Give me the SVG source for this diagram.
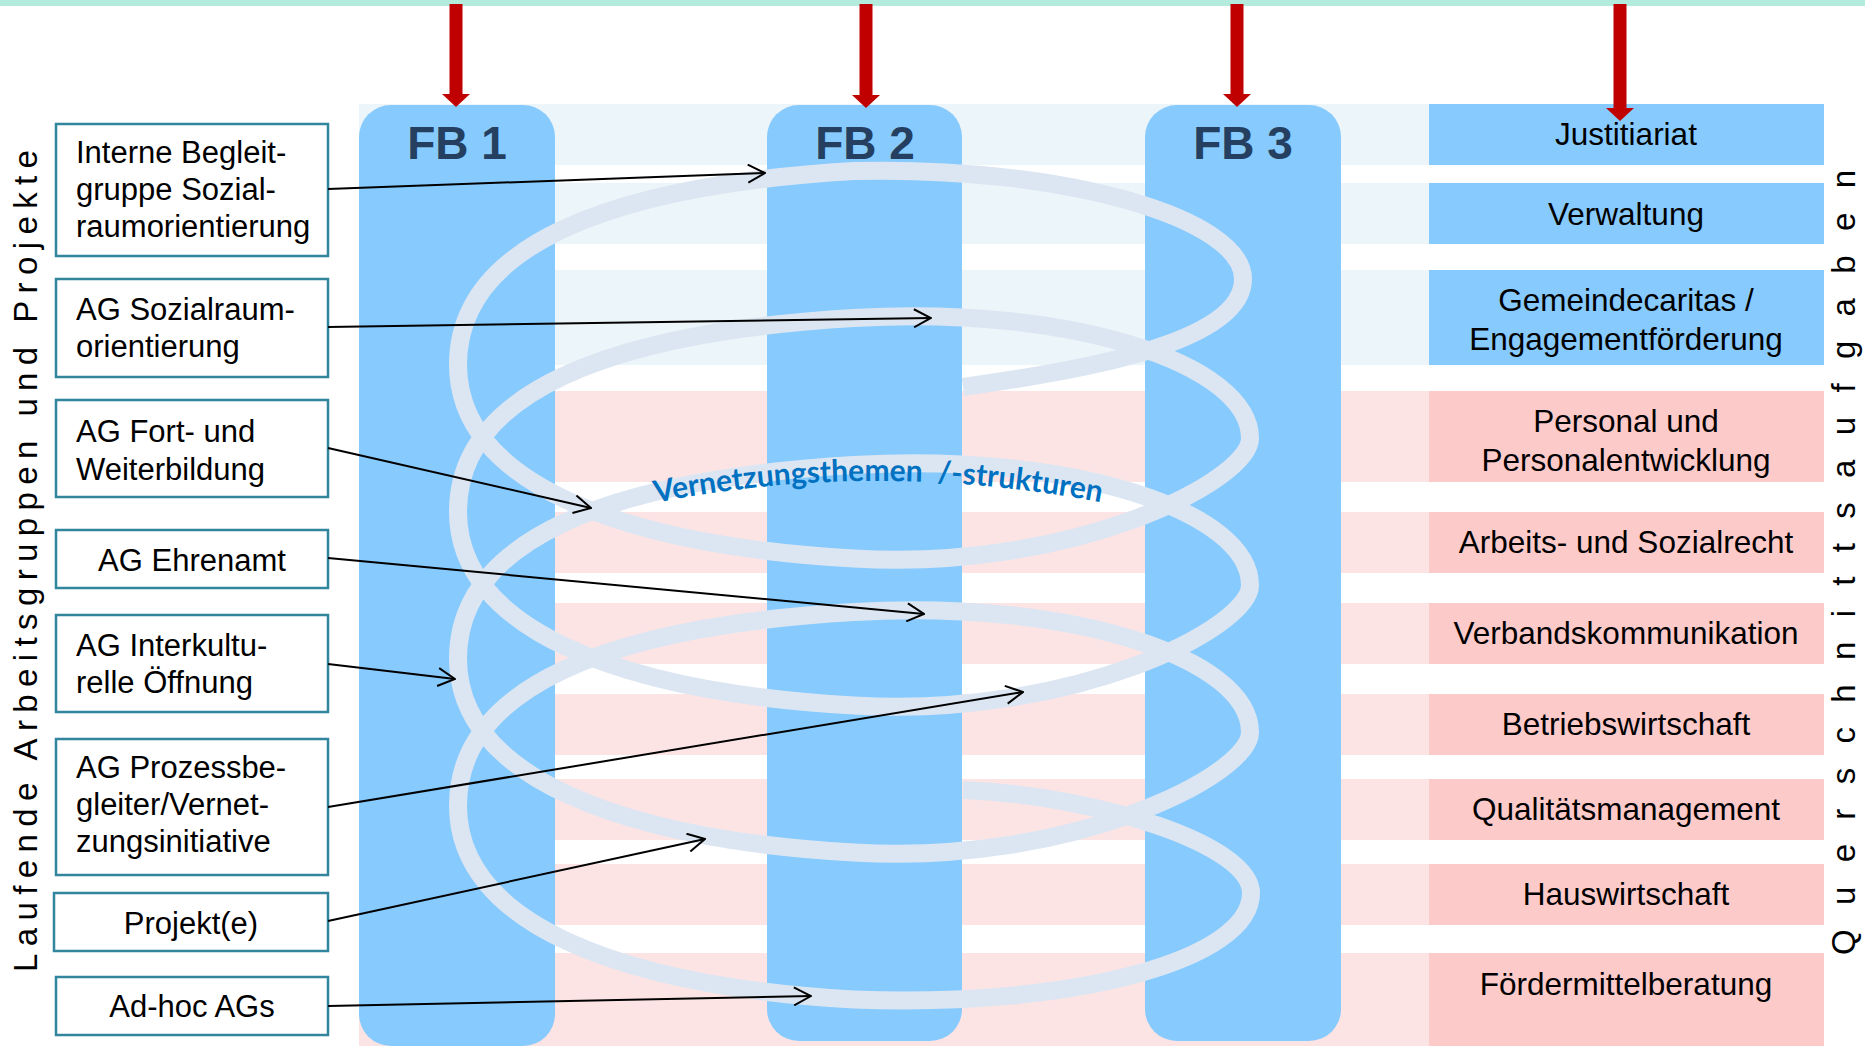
<svg xmlns="http://www.w3.org/2000/svg" width="1865" height="1046" viewBox="0 0 1865 1046">
<defs>
<style>
.bandB{fill:#ecf5f9}
.bandP{fill:#fde4e4}
.boxB{fill:#87cafd}
.boxP{fill:#fdcaca}
.col{fill:#87cafd}
.fb{font-family:"Liberation Sans",Arial,sans-serif;font-weight:bold;font-size:46px;fill:#243f60;text-anchor:middle}
.rt{font-family:"Liberation Sans",Arial,sans-serif;font-size:31.5px;fill:#000;text-anchor:middle}
.lb{fill:#fff;stroke:#31859c;stroke-width:2.5}
.lt{font-family:"Liberation Sans",Arial,sans-serif;font-size:31px;fill:#000}
.ltc{font-family:"Liberation Sans",Arial,sans-serif;font-size:31px;fill:#000;text-anchor:middle}
.red{fill:#c00000}
.con{stroke:#000;stroke-width:2;fill:none;marker-end:url(#open)}
.vt{font-family:"Liberation Sans",Arial,sans-serif;font-size:33px;fill:#000}
</style>
<marker id="open" viewBox="0 0 20 20" refX="19" refY="10" markerWidth="20" markerHeight="20" markerUnits="userSpaceOnUse" orient="auto">
<path d="M2,1 L19,10 L2,19" fill="none" stroke="#000" stroke-width="2"/>
</marker>
</defs>
<rect x="0" y="0" width="1865" height="1046" fill="#fff"/>
<rect x="0" y="0" width="1865" height="6" fill="#b3ebdd"/>

<g id="bands">
<rect class="bandB" x="359" y="104" width="1070" height="61"/>
<rect class="bandB" x="359" y="183" width="1070" height="61"/>
<rect class="bandB" x="359" y="270" width="1070" height="95"/>
<rect class="bandP" x="359" y="391" width="1070" height="91"/>
<rect class="bandP" x="359" y="512" width="1070" height="61"/>
<rect class="bandP" x="359" y="603" width="1070" height="61"/>
<rect class="bandP" x="359" y="694" width="1070" height="61"/>
<rect class="bandP" x="359" y="779" width="1070" height="61"/>
<rect class="bandP" x="359" y="864" width="1070" height="61"/>
<rect class="bandP" x="359" y="953" width="1070" height="93"/>
</g>

<g id="justitiariat"><rect class="boxB" x="1429" y="104" width="395" height="61"/><text class="rt" x="1626" y="145">Justitiariat</text></g>
<g id="verwaltung"><rect class="boxB" x="1429" y="183" width="395" height="61"/><text class="rt" x="1626" y="225">Verwaltung</text></g>
<g id="gemeindecaritas"><rect class="boxB" x="1429" y="270" width="395" height="95"/><text class="rt" x="1626" y="311">Gemeindecaritas /</text><text class="rt" x="1626" y="350">Engagementförderung</text></g>
<g id="personal"><rect class="boxP" x="1429" y="391" width="395" height="91"/><text class="rt" x="1626" y="432">Personal und</text><text class="rt" x="1626" y="471">Personalentwicklung</text></g>
<g id="arbeitsrecht"><rect class="boxP" x="1429" y="512" width="395" height="61"/><text class="rt" x="1626" y="553">Arbeits- und Sozialrecht</text></g>
<g id="verbandskommunikation"><rect class="boxP" x="1429" y="603" width="395" height="61"/><text class="rt" x="1626" y="644">Verbandskommunikation</text></g>
<g id="betriebswirtschaft"><rect class="boxP" x="1429" y="694" width="395" height="61"/><text class="rt" x="1626" y="735">Betriebswirtschaft</text></g>
<g id="qualitaetsmanagement"><rect class="boxP" x="1429" y="779" width="395" height="61"/><text class="rt" x="1626" y="820">Qualitätsmanagement</text></g>
<g id="hauswirtschaft"><rect class="boxP" x="1429" y="864" width="395" height="61"/><text class="rt" x="1626" y="905">Hauswirtschaft</text></g>
<g id="foerdermittelberatung"><rect class="boxP" x="1429" y="953" width="395" height="93"/><text class="rt" x="1626" y="995">Fördermittelberatung</text></g>

<g id="fb1"><rect class="col" x="359" y="105" width="196" height="941" rx="32"/><text class="fb" x="457" y="159">FB 1</text></g>
<g id="fb2"><rect class="col" x="767" y="105" width="195" height="936" rx="32"/><text class="fb" x="865" y="159">FB 2</text></g>
<g id="fb3"><rect class="col" x="1145" y="105" width="196" height="936" rx="32"/><text class="fb" x="1243" y="159">FB 3</text></g>

<g id="spiral">
<path fill="none" stroke="#dce6f2" stroke-width="18" d="M963,387 C1070,372 1243,345 1243,279 C1243,219.4 1069,166 854,171
C608.5,185.5 458,246 458,364.75 C458,481 616,545 854,558.5 C1072.7,571.4 1250,481 1250,438.25 C1250,364.5 1072.7,305.1 854,318
C608.5,332.5 458,393 458,511.75 C458,628 616,692 854,705.5 C1072.7,718.4 1250,628 1250,585.25 C1250,511.5 1072.7,452.1 854,465
C608.5,479.5 458,540 458,658.75 C458,775 616,839 854,852.5 C1072.7,865.4 1250,775 1250,732.25 C1250,658.5 1072.7,599.1 854,612
C608.5,626.5 458,687 458,805.75 C458,922 616,986 854,999.5 C1073,1008 1251,960 1251,893 C1251,845 1100,796 963,790"/>
<path id="txtarc" fill="none" stroke="none" d="M640,506 Q870,457 1110,504"/>
<text font-family="Lato,'Open Sans',sans-serif" font-weight="bold" font-size="30.5" fill="#0070c0" xml:space="preserve"><textPath href="#txtarc" startOffset="16" textLength="448" lengthAdjust="spacingAndGlyphs">Vernetzungsthemen  /-strukturen</textPath></text>
</g>

<g id="box-interne"><rect class="lb" x="56" y="124" width="272" height="132"/><text class="lt" x="76" y="163">Interne Begleit-</text><text class="lt" x="76" y="200">gruppe Sozial-</text><text class="lt" x="76" y="237">raumorientierung</text></g>
<g id="box-sozialraum"><rect class="lb" x="56" y="279" width="272" height="98"/><text class="lt" x="76" y="320">AG Sozialraum-</text><text class="lt" x="76" y="357">orientierung</text></g>
<g id="box-fortbildung"><rect class="lb" x="56" y="400" width="272" height="97"/><text class="lt" x="76" y="442">AG Fort- und</text><text class="lt" x="76" y="480">Weiterbildung</text></g>
<g id="box-ehrenamt"><rect class="lb" x="56" y="530" width="272" height="58"/><text class="ltc" x="192" y="571">AG Ehrenamt</text></g>
<g id="box-interkulturell"><rect class="lb" x="56" y="615" width="272" height="97"/><text class="lt" x="76" y="656">AG Interkultu-</text><text class="lt" x="76" y="693">relle Öffnung</text></g>
<g id="box-prozess"><rect class="lb" x="56" y="739" width="272" height="136"/><text class="lt" x="76" y="778">AG Prozessbe-</text><text class="lt" x="76" y="815">gleiter/Vernet-</text><text class="lt" x="76" y="852">zungsinitiative</text></g>
<g id="box-projekte"><rect class="lb" x="54" y="893" width="274" height="58"/><text class="ltc" x="191" y="934">Projekt(e)</text></g>
<g id="box-adhoc"><rect class="lb" x="56" y="977" width="272" height="58"/><text class="ltc" x="192" y="1017">Ad-hoc AGs</text></g>

<g id="connectors">
<line class="con" x1="328" y1="189" x2="765" y2="173"/>
<line class="con" x1="328" y1="327" x2="931" y2="318"/>
<line class="con" x1="328" y1="448" x2="591" y2="508"/>
<line class="con" x1="328" y1="558" x2="924" y2="614"/>
<line class="con" x1="328" y1="664" x2="455" y2="679"/>
<line class="con" x1="328" y1="807" x2="1023" y2="692"/>
<line class="con" x1="328" y1="921" x2="705" y2="839"/>
<line class="con" x1="328" y1="1006" x2="811" y2="996"/>
</g>

<g id="red-arrows">
<rect class="red" x="449.5" y="4" width="13" height="90"/><polygon class="red" points="442,94 470,94 456,107"/>
<rect class="red" x="859.5" y="4" width="13" height="91"/><polygon class="red" points="852,95 880,95 866,108"/>
<rect class="red" x="1230.5" y="4" width="13" height="90"/><polygon class="red" points="1223,94 1251,94 1237,107"/>
<rect class="red" x="1613.5" y="4" width="13" height="104"/><polygon class="red" points="1606,108 1634,108 1620,121"/>
</g>

<text class="vt" transform="translate(37,972) rotate(-90)" textLength="822" lengthAdjust="spacing">Laufende Arbeitsgruppen und Projekte</text>
<text class="vt" transform="translate(1855,955) rotate(-90)" textLength="785" lengthAdjust="spacing">Querschnittsaufgaben</text>
</svg>
